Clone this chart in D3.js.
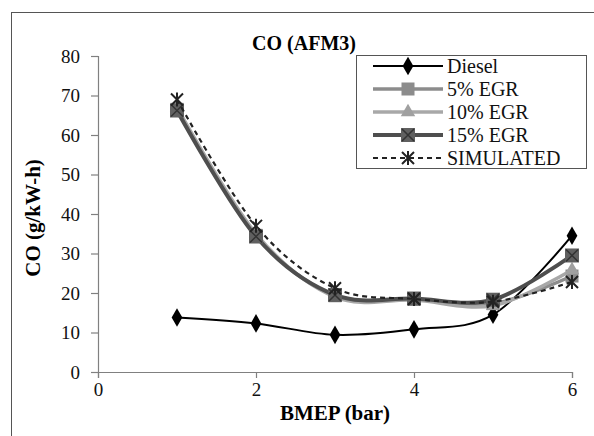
<!DOCTYPE html>
<html><head><meta charset="utf-8">
<script src="https://cdn.jsdelivr.net/npm/d3@7"></script>
<style>body{margin:0;background:#fff}svg{display:block}</style>
</head><body><svg id="c" width="594" height="436"></svg>
<script>
const bmep = [1, 2, 3, 4, 5, 6];
const diesel = [13.8, 12.3, 9.4, 10.8, 14.5, 34.5];
const egr5 = [66.5, 34.6, 19.3, 18.4, 17.3, 24.3];
const egr10 = [67.0, 35.0, 19.0, 18.2, 16.8, 25.8];
const egr15 = [66.2, 34.3, 19.5, 18.6, 18.3, 29.5];
const simulated = [69.0, 37.0, 21.2, 18.5, 17.8, 22.8];
const seriesNames = ["Diesel", "5% EGR", "10% EGR", "15% EGR", "SIMULATED"];
const xTicks = [0, 2, 4, 6];
const yTicks = [0, 10, 20, 30, 40, 50, 60, 70, 80];

const FONT = "Liberation Serif";
const svg = d3.select("#c");
const x = d3.scaleLinear().domain([0, 6]).range([98, 572]);
const y = d3.scaleLinear().domain([0, 80]).range([372, 56]);

svg.append("rect").attr("x", 11.5).attr("y", 12.5).attr("width", 600).attr("height", 440)
  .attr("fill", "none").attr("stroke", "#555").attr("stroke-width", 1);

const ax = svg.append("g").attr("transform", `translate(0,${y(0)})`)
  .call(d3.axisBottom(x).tickValues(xTicks).tickSize(6).tickPadding(5).tickFormat(d3.format("d")));
const ay = svg.append("g").attr("transform", `translate(${x(0)},0)`)
  .call(d3.axisLeft(y).tickValues(yTicks).tickSize(7).tickPadding(11).tickFormat(d3.format("d")));
[ax, ay].forEach(g => {
  g.attr("font-family", FONT).attr("font-size", 19);
  g.selectAll("path,line").attr("stroke", "#808080").attr("stroke-width", 1.2);
  g.selectAll("text").attr("fill", "#111");
});

svg.append("text").attr("x", 304).attr("y", 50).attr("text-anchor", "middle").attr("font-family", FONT)
  .attr("font-weight", "bold").attr("font-size", 20).text("CO (AFM3)");
svg.append("text").attr("x", x(3)).attr("y", 420).attr("text-anchor", "middle").attr("font-family", FONT)
  .attr("font-weight", "bold").attr("font-size", 21).text("BMEP (bar)");
svg.append("text").attr("transform", `translate(40,${y(39)}) rotate(-90)`).attr("text-anchor", "middle").attr("font-family", FONT)
  .attr("font-weight", "bold").attr("font-size", 21).text("CO (g/kW-h)");

const styles = [
  {vals: diesel, color: "#000", w: 2, dash: null, marker: "diamond", mfill: "#000"},
  {vals: egr5, color: "#8c8c8c", w: 3.5, dash: null, marker: "square", mfill: "#8c8c8c"},
  {vals: egr10, color: "#a8a8a8", w: 3.5, dash: null, marker: "triangle", mfill: "#a0a0a0"},
  {vals: egr15, color: "#4e4e4e", w: 4, dash: null, marker: "xsquare", mfill: "#606060"},
  {vals: simulated, color: "#222", w: 2.2, dash: "5,4", marker: "star", mfill: "none"}
];

const line = d3.line().x((d, i) => x(bmep[i])).y(d => y(d)).curve(d3.curveCatmullRom.alpha(0));

function drawMarker(g, type, cx, cy, fill, color) {
  if (type === "diamond") {
    g.append("path").attr("d", d3.symbol(d3.symbolDiamond, 100)()).attr("transform", `translate(${cx},${cy})`)
      .attr("fill", fill);
  } else if (type === "square") {
    g.append("rect").attr("x", cx - 6.5).attr("y", cy - 6.5).attr("width", 13).attr("height", 13).attr("fill", fill);
  } else if (type === "triangle") {
    g.append("path").attr("d", d3.symbol(d3.symbolTriangle, 90)()).attr("transform", `translate(${cx},${cy})`).attr("fill", fill);
  } else if (type === "xsquare") {
    g.append("rect").attr("x", cx - 7).attr("y", cy - 7).attr("width", 14).attr("height", 14).attr("fill", fill);
    g.append("path").attr("d", `M${cx-6},${cy-6}L${cx+6},${cy+6}M${cx+6},${cy-6}L${cx-6},${cy+6}`)
      .attr("stroke", "#333").attr("stroke-width", 1.5);
  } else if (type === "star") {
    g.append("path").attr("d", `M${cx-6},${cy-6}L${cx+6},${cy+6}M${cx+6},${cy-6}L${cx-6},${cy+6}M${cx},${cy-7}L${cx},${cy+7}`)
      .attr("stroke", color).attr("stroke-width", 2);
  }
}

styles.forEach(s => {
  const g = svg.append("g");
  g.append("path").attr("d", line(s.vals)).attr("fill", "none").attr("stroke", s.color)
    .attr("stroke-width", s.w).attr("stroke-dasharray", s.dash);
  s.vals.forEach((v, i) => drawMarker(g, s.marker, x(bmep[i]), y(v), s.mfill, s.color));
});

// legend
const lg = svg.append("g");
lg.append("rect").attr("x", 356.5).attr("y", 55.5).attr("width", 230).attr("height", 113)
  .attr("fill", "#fff").attr("stroke", "#555").attr("stroke-width", 1);
styles.forEach((s, i) => {
  const ly = 66 + i * 23;
  lg.append("line").attr("x1", 373).attr("x2", 443).attr("y1", ly).attr("y2", ly)
    .attr("stroke", s.color).attr("stroke-width", s.w).attr("stroke-dasharray", s.dash);
  drawMarker(lg, s.marker, 408, ly, s.mfill, s.color);
  lg.append("text").attr("x", 447).attr("y", ly + 7).attr("font-size", 20).attr("font-family", FONT)
    .attr("fill", "#111").text(seriesNames[i]);
});
</script></body></html>
